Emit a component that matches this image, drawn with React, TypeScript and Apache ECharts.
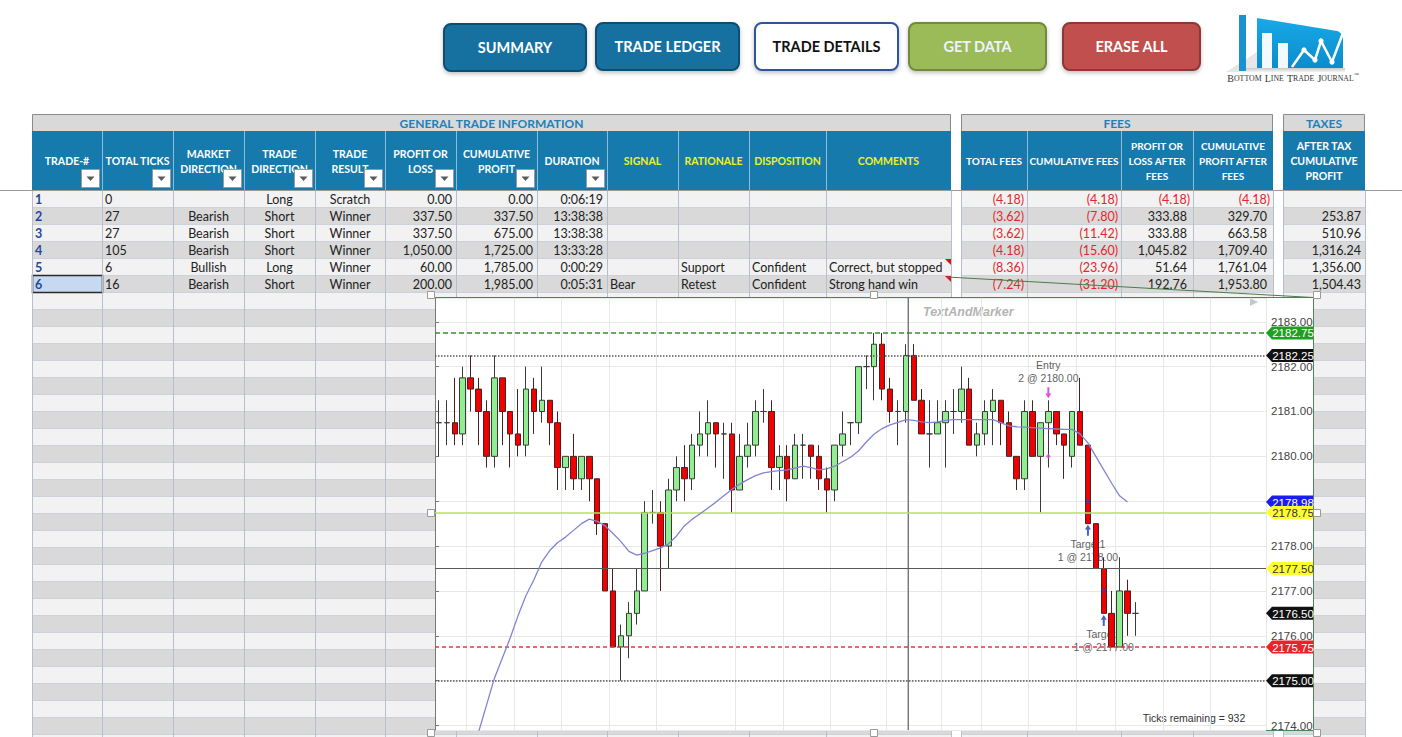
import React, { useEffect, useRef } from 'react';
import * as echarts from 'echarts';

// ================= spreadsheet values =================
const tradeNumbers = ['1', '2', '3', '4', '5', '6'];
const totalTicks = ['0', '27', '27', '105', '6', '16'];
const marketDirection = ['', 'Bearish', 'Bearish', 'Bearish', 'Bullish', 'Bearish'];
const tradeDirection = ['Long', 'Short', 'Short', 'Short', 'Long', 'Short'];
const tradeResult = ['Scratch', 'Winner', 'Winner', 'Winner', 'Winner', 'Winner'];
const profitOrLoss = [0, 337.5, 337.5, 1050, 60, 200];
const cumulativeProfit = [0, 337.5, 675, 1725, 1785, 1985];
const duration = ['0:06:19', '13:38:38', '13:38:38', '13:33:28', '0:00:29', '0:05:31'];
const signal = ['', '', '', '', '', 'Bear'];
const rationale = ['', '', '', '', 'Support', 'Retest'];
const disposition = ['', '', '', '', 'Confident', 'Confident'];
const comments = ['', '', '', '', 'Correct, but stopped', 'Strong hand win'];
const totalFees = [-4.18, -3.62, -3.62, -4.18, -8.36, -7.24];
const cumulativeFees = [-4.18, -7.8, -11.42, -15.6, -23.96, -31.2];
const plAfterFees = [-4.18, 333.88, 333.88, 1045.82, 51.64, 192.76];
const cumProfitAfterFees = [-4.18, 329.7, 663.58, 1709.4, 1761.04, 1953.8];
const afterTaxCumProfit = [null, 253.87, 510.96, 1316.24, 1356.0, 1504.43];

const groupTitles = ['GENERAL TRADE INFORMATION', 'FEES', 'TAXES'];
const generalHeaders = ['TRADE-#', 'TOTAL TICKS', 'MARKET\nDIRECTION', 'TRADE\nDIRECTION', 'TRADE\nRESULT', 'PROFIT OR\nLOSS', 'CUMULATIVE\nPROFIT', 'DURATION', 'SIGNAL', 'RATIONALE', 'DISPOSITION', 'COMMENTS'];
const feeHeaders = ['TOTAL FEES', 'CUMULATIVE FEES', 'PROFIT OR\nLOSS AFTER\nFEES', 'CUMULATIVE\nPROFIT AFTER\nFEES'];
const taxHeaders = ['AFTER TAX\nCUMULATIVE\nPROFIT'];
const buttonLabels = ['SUMMARY', 'TRADE LEDGER', 'TRADE DETAILS', 'GET DATA', 'ERASE ALL'];

// ================= price chart values =================
// [open, high, low, close] per bar
const barOHLC = [
  [2180.75, 2181.25, 2180.0, 2180.75],
  [2180.75, 2181.25, 2180.25, 2180.75],
  [2180.75, 2181.75, 2180.25, 2180.5],
  [2180.5, 2182.0, 2180.25, 2181.75],
  [2181.75, 2182.25, 2181.0, 2181.5],
  [2181.5, 2181.75, 2180.25, 2181.0],
  [2181.0, 2181.25, 2179.75, 2180.0],
  [2180.0, 2182.25, 2179.75, 2181.75],
  [2181.75, 2181.75, 2180.25, 2181.0],
  [2181.0, 2181.0, 2179.75, 2180.5],
  [2180.5, 2181.5, 2180.0, 2180.25],
  [2180.25, 2182.0, 2180.0, 2181.5],
  [2181.5, 2181.75, 2180.5, 2181.0],
  [2181.0, 2182.0, 2180.75, 2181.25],
  [2181.25, 2181.25, 2180.25, 2180.75],
  [2180.75, 2181.0, 2179.25, 2179.75],
  [2179.75, 2180.0, 2179.25, 2180.0],
  [2180.0, 2180.5, 2179.25, 2179.5],
  [2179.5, 2180.0, 2179.25, 2180.0],
  [2180.0, 2180.0, 2179.0, 2179.5],
  [2179.5, 2179.5, 2178.25, 2178.5],
  [2178.5, 2178.5, 2177.0, 2177.0],
  [2177.0, 2177.5, 2175.75, 2175.75],
  [2175.75, 2176.25, 2175.0, 2176.0],
  [2176.0, 2176.75, 2175.5, 2176.5],
  [2176.5, 2177.5, 2176.25, 2177.0],
  [2177.0, 2179.0, 2177.0, 2178.75],
  [2178.75, 2179.25, 2178.5, 2178.75],
  [2178.75, 2179.0, 2177.0, 2178.0],
  [2178.0, 2179.5, 2177.5, 2179.25],
  [2179.25, 2180.0, 2179.0, 2179.75],
  [2179.75, 2180.25, 2179.0, 2179.5],
  [2179.5, 2180.5, 2179.25, 2180.25],
  [2180.25, 2181.0, 2180.0, 2180.5],
  [2180.5, 2181.25, 2180.0, 2180.75],
  [2180.75, 2180.75, 2179.75, 2180.5],
  [2180.5, 2180.75, 2179.5, 2180.5],
  [2180.5, 2180.75, 2178.75, 2179.25],
  [2179.25, 2180.5, 2179.25, 2180.0],
  [2180.0, 2180.75, 2179.75, 2180.25],
  [2180.25, 2181.25, 2180.0, 2181.0],
  [2181.0, 2181.5, 2180.75, 2181.0],
  [2181.0, 2181.25, 2179.25, 2179.75],
  [2179.75, 2180.25, 2179.25, 2180.0],
  [2180.0, 2180.25, 2179.0, 2179.5],
  [2179.5, 2180.5, 2179.5, 2180.25],
  [2180.25, 2180.5, 2179.5, 2180.25],
  [2180.25, 2180.25, 2179.5, 2180.0],
  [2180.0, 2180.25, 2179.25, 2179.5],
  [2179.5, 2179.75, 2178.75, 2179.25],
  [2179.25, 2180.25, 2179.0, 2180.25],
  [2180.25, 2181.0, 2180.0, 2180.5],
  [2180.75, 2180.75, 2180.25, 2180.75],
  [2180.75, 2182.0, 2180.5, 2182.0],
  [2182.0, 2182.25, 2181.5, 2182.0],
  [2182.0, 2182.75, 2181.25, 2182.5],
  [2182.5, 2182.75, 2181.25, 2181.5],
  [2181.5, 2181.75, 2180.75, 2181.0],
  [2181.0, 2181.25, 2180.25, 2181.0],
  [2181.0, 2182.5, 2180.75, 2182.25],
  [2182.25, 2182.5, 2181.25, 2181.25],
  [2181.25, 2181.5, 2180.5, 2180.5],
  [2180.5, 2181.25, 2179.75, 2180.5],
  [2180.5, 2181.25, 2180.5, 2180.75],
  [2180.75, 2181.25, 2179.75, 2181.0],
  [2181.0, 2181.5, 2180.5, 2181.0],
  [2181.0, 2182.0, 2180.75, 2181.5],
  [2181.5, 2181.75, 2180.25, 2180.25],
  [2180.25, 2180.75, 2180.0, 2180.5],
  [2180.5, 2181.25, 2180.25, 2181.0],
  [2181.0, 2181.5, 2180.25, 2181.25],
  [2181.25, 2181.25, 2180.25, 2180.75],
  [2180.75, 2181.0, 2180.0, 2180.0],
  [2180.0, 2180.0, 2179.25, 2179.5],
  [2179.5, 2181.25, 2179.25, 2181.0],
  [2181.0, 2181.25, 2180.0, 2180.0],
  [2180.0, 2180.75, 2178.75, 2180.75],
  [2180.75, 2181.25, 2179.75, 2181.0],
  [2181.0, 2181.0, 2180.25, 2180.5],
  [2180.5, 2180.5, 2179.5, 2180.25],
  [2180.0, 2181.0, 2179.75, 2181.0],
  [2181.0, 2181.75, 2180.25, 2180.25],
  [2180.25, 2180.25, 2178.5, 2178.5],
  [2178.5, 2178.5, 2177.5, 2177.5],
  [2177.5, 2177.75, 2176.5, 2176.5],
  [2176.5, 2177.0, 2175.75, 2175.75],
  [2175.75, 2177.75, 2175.75, 2177.0],
  [2177.0, 2177.25, 2176.0, 2176.5],
  [2176.5, 2176.75, 2176.0, 2176.5],
];

// moving average line (null = not drawn)
const movingAverage = [
  null, null, null, null, 2173.3, 2173.85, 2174.45, 2175.05, 2175.5, 2175.95,
  2176.45, 2176.9, 2177.25, 2177.65, 2177.9, 2178.08, 2178.2, 2178.35, 2178.5, 2178.6,
  2178.55, 2178.45, 2178.28, 2178.1, 2177.88, 2177.8, 2177.84, 2177.9, 2177.96, 2178.05,
  2178.22, 2178.45, 2178.6, 2178.72, 2178.85, 2178.98, 2179.12, 2179.26, 2179.38, 2179.48,
  2179.57, 2179.63, 2179.66, 2179.68, 2179.7, 2179.74, 2179.78, 2179.75, 2179.7, 2179.72,
  2179.78, 2179.88, 2179.98, 2180.12, 2180.32, 2180.5, 2180.62, 2180.7, 2180.76, 2180.82,
  2180.8, 2180.77, 2180.75, 2180.77, 2180.8, 2180.82, 2180.82, 2180.82, 2180.82, 2180.82,
  2180.82, 2180.75, 2180.68, 2180.66, 2180.65, 2180.64, 2180.63, 2180.62, 2180.61, 2180.6,
  2180.6, 2180.5, 2180.3, 2180.0, 2179.7, 2179.4, 2179.12, 2178.98,
];

const priceMin = 2173.9;
const priceMax = 2183.53;
const barSlotCount = 105;
const barSlots = Array.from({ length: barSlotCount }, (_, i) => String(i + 1));
const verticalGridSlots = [4, 10, 16, 22, 28, 38, 44, 50, 57, 64, 69, 75, 81, 86, 92, 98];
const crosshairBar = 59.8;

// horizontal price levels (right-axis markers)
const levelPrices = [2182.75, 2182.25, 2178.98, 2178.75, 2177.5, 2176.5, 2175.75, 2175.0];

// trade annotations
const markerBars = [77, 82, 84];
const markerTitles = ['Entry', 'Target1', 'Target2'];
const markerFills = ['2 @ 2180.00', '1 @ 2178.00', '1 @ 2177.00'];
const markerTextPrices = [2181.9, 2177.9, 2175.9];
const markerArrowPrices = [2181.42, 2178.35, 2176.34];
const fillPrices = [2180.0, 2179.0, 2177.0];
const ticksRemaining = 932;

// ================= styles & layout =================
const W = 1402;
const H = 737;
const UI_FONT = 'Lato';
const CHART_FONT = 'Liberation Sans';
const GENERAL_COLS = [32, 102, 173, 244, 315, 385, 456, 537, 607, 678, 749, 826, 951];
const FEE_COLS = [961, 1027, 1121, 1193, 1273];
const TAX_COLS = [1283, 1365];
const BAND_Y = 114;
const HEAD_Y = 131;
const BODY_Y = 191;
const ROW_H = 17;
const N_ROWS = 33;
const HEADER_BLUE = '#177aad';

const levelLineStyles: any[] = [
  { color: '#2f8f2f', width: 1.5, type: [5, 3] },
  { color: '#555555', width: 1.5, type: [1.5, 1.5] },
  null,
  { color: '#b9e25c', width: 1.5, type: 'solid' },
  { color: '#5a5a5a', width: 1.2, type: 'solid' },
  null,
  { color: '#e23a3a', width: 1.5, type: [4, 3] },
  { color: '#555555', width: 1.5, type: [1.5, 1.5] },
];
const levelBoxColors = ['#20a020', '#111111', '#1c1cf0', '#ffff30', '#ffff30', '#111111', '#e82424', '#111111'];
const levelTextColors = ['#ffffff', '#ffffff', '#ffffff', '#333333', '#333333', '#ffffff', '#ffffff', '#ffffff'];

const buttonBoxes = [
  [444, 24, 142, 47],
  [596, 23, 143, 47],
  [755, 23, 143, 47],
  [909, 23, 137, 47],
  [1063, 23, 137, 47],
];
const buttonFills = ['#1570a0', '#1570a0', '#ffffff', '#9bbb59', '#c0504d'];
const buttonStrokes = ['#0e4d70', '#0e4d70', '#2f5597', '#71893f', '#8c3836'];
const buttonTextColors = ['#ffffff', '#ffffff', '#111111', '#eef2ff', '#ffffff'];

// ================= helpers =================
const money = (v: number) => Math.abs(v).toLocaleString('en-US', { minimumFractionDigits: 2, maximumFractionDigits: 2 });
const acct = (v: number | null) => (v == null ? '' : v < 0 ? `(${money(v)})` : money(v));

function rect(x: number, y: number, w: number, h: number, fill: any, stroke?: string, lw = 1, z = 0, r = 0, extra: any = {}) {
  return {
    type: 'rect', silent: true, z,
    shape: { x, y, width: w, height: h, r },
    style: { fill, stroke: stroke || null, lineWidth: stroke ? lw : 0, ...extra },
  };
}
function seg(x1: number, y1: number, x2: number, y2: number, stroke: string, lw = 1, z = 0) {
  return { type: 'line', silent: true, z, shape: { x1, y1, x2, y2 }, style: { stroke, lineWidth: lw } };
}
function poly(points: number[][], fill: string, z = 0) {
  return { type: 'polygon', silent: true, z, shape: { points }, style: { fill } };
}
function txt(x: number, y: number, text: string, o: any = {}) {
  const align = o.align || 'left';
  return {
    type: 'text', silent: true, z: o.z ?? 0,
    style: {
      text, x, y,
      fill: o.fill || '#222',
      fontSize: o.size || 12.5,
      fontFamily: o.family || UI_FONT,
      fontWeight: o.weight || 'normal',
      fontStyle: o.fontStyle || 'normal',
      align, textAlign: align,
      verticalAlign: 'middle', textVerticalAlign: 'middle',
      lineHeight: o.lh,
      rich: o.rich,
    },
  };
}

function buildGraphics() {
  const els: any[] = [];

  // ---------- buttons ----------
  buttonBoxes.forEach((b, i) => {
    els.push(rect(b[0], b[1], b[2], b[3], buttonFills[i], buttonStrokes[i], 2, 0, 7, {
      shadowBlur: 4, shadowColor: 'rgba(0,0,0,0.25)', shadowOffsetY: 2,
    }));
    els.push(txt(b[0] + b[2] / 2, b[1] + b[3] / 2, buttonLabels[i], {
      align: 'center', size: 14.5, weight: 'bold', fill: buttonTextColors[i],
    }));
  });

  // ---------- logo ----------
  els.push(poly([[1226, 72], [1257, 52], [1257, 72]], '#e6e6e6'));
  els.push(rect(1239, 68, 106, 4, { type: 'linear', x: 0, y: 0, x2: 0, y2: 1, colorStops: [{ offset: 0, color: '#c8c8c8' }, { offset: 1, color: '#f4f4f4' }] }));
  els.push(rect(1239, 15, 7, 56, '#1a92d0'));
  els.push({
    type: 'polygon', silent: true, z: 0,
    shape: { points: [[1257, 18], [1343, 32], [1343, 68], [1257, 68]] },
    style: { fill: { type: 'linear', x: 0, y: 0, x2: 0, y2: 1, colorStops: [{ offset: 0, color: '#18a9e8' }, { offset: 1, color: '#0b8ccc' }] } },
  });
  els.push(rect(1262, 33, 10, 35, '#f3fafe'));
  els.push(rect(1278, 43, 10, 25, '#f3fafe'));
  els.push({
    type: 'polyline', silent: true, z: 0,
    shape: { points: [[1292, 67], [1304, 50], [1315, 60], [1321, 41], [1332, 62], [1343, 33]] },
    style: { stroke: '#ffffff', lineWidth: 2.5, fill: null },
  });
  [[1304, 50], [1321, 41], [1315, 60], [1332, 62]].forEach((p) => {
    els.push({ type: 'circle', silent: true, z: 0, shape: { cx: p[0], cy: p[1], r: 2.6 }, style: { fill: '#ffffff' } });
  });
  els.push(poly([[1347, 28], [1338, 31], [1345, 37]], '#ffffff'));
  els.push(txt(1293, 78, '{b|B}{s|OTTOM} {b|L}{s|INE} {b|T}{s|RADE} {b|J}{s|OURNAL}{t|™}', {
    align: 'center', family: 'Liberation Serif', fill: '#333',
    rich: {
      b: { fontSize: 10, fontFamily: 'Liberation Serif', fill: '#333', color: '#333' },
      s: { fontSize: 7.8, fontFamily: 'Liberation Serif', fill: '#333', color: '#333' },
      t: { fontSize: 5, fontFamily: 'Liberation Serif', fill: '#333', color: '#333', verticalAlign: 'top' },
    },
  }));

  // ---------- table ----------
  const generalCells = [tradeNumbers, totalTicks, marketDirection, tradeDirection, tradeResult,
    profitOrLoss.map(acct), cumulativeProfit.map(acct), duration, signal, rationale, disposition, comments];
  const generalAligns = ['left', 'left', 'center', 'center', 'center', 'right', 'right', 'right', 'left', 'left', 'left', 'left'];
  const feeValues = [totalFees, cumulativeFees, plAfterFees, cumProfitAfterFees];

  const groups = [
    { cols: GENERAL_COLS, title: groupTitles[0], heads: generalHeaders, yellowFrom: 8, drops: 8, headSize: 10.5 },
    { cols: FEE_COLS, title: groupTitles[1], heads: feeHeaders, yellowFrom: 99, drops: 0, headSize: 10 },
    { cols: TAX_COLS, title: groupTitles[2], heads: taxHeaders, yellowFrom: 99, drops: 0, headSize: 10.5 },
  ];

  groups.forEach((g, gi) => {
    const x0 = g.cols[0];
    const x1 = g.cols[g.cols.length - 1];
    // stripes
    for (let r = 0; r < N_ROWS; r++) {
      els.push(rect(x0, BODY_Y + r * ROW_H, x1 - x0, ROW_H, r % 2 === 0 ? '#f2f2f2' : '#d9d9d9'));
    }
    for (let r = 1; r < N_ROWS; r++) {
      const y = BODY_Y + r * ROW_H - 0.5;
      els.push(seg(x0, y, x1, y, '#cdd2da', 1));
    }
    if (gi === 0) {
      els.push(rect(GENERAL_COLS[0] + 0.5, BODY_Y + 5 * ROW_H - 0.5, GENERAL_COLS[1] - GENERAL_COLS[0], ROW_H, '#c6d9f0', '#2b2b2b', 1.5));
    }
    g.cols.forEach((cx) => els.push(seg(cx + 0.5, BODY_Y, cx + 0.5, H, '#b5bfcd', 1)));
    // group band
    els.push(rect(x0 + 0.5, BAND_Y + 0.5, x1 - x0 - 1, HEAD_Y - BAND_Y, '#d9d9d9', '#8a8a8a', 1));
    els.push(txt((x0 + x1) / 2, (BAND_Y + HEAD_Y) / 2 + 1, g.title, {
      align: 'center', size: 12, weight: 'bold', fill: '#1e80b8',
    }));
    // header row
    els.push(rect(x0, HEAD_Y, x1 - x0, BODY_Y - HEAD_Y - 1, HEADER_BLUE));
    g.cols.slice(1, -1).forEach((cx) => els.push(seg(cx + 0.5, HEAD_Y, cx + 0.5, BODY_Y - 1, '#8fbcd8', 1)));
    g.heads.forEach((h, i) => {
      els.push(txt((g.cols[i] + g.cols[i + 1]) / 2, 161, h, {
        align: 'center', size: g.headSize, weight: 'bold', lh: 15,
        fill: i >= g.yellowFrom ? '#eef21c' : '#ffffff',
      }));
    });
    for (let i = 0; i < g.drops; i++) {
      const r = g.cols[i + 1];
      els.push(rect(r - 20.5, 169.5, 18, 18, '#ffffff', '#9a9a9a', 1));
      const cx = r - 11.5;
      els.push(poly([[cx - 4, 176.5], [cx + 4, 176.5], [cx, 181]], '#5a5a5a'));
    }
  });

  // cell texts
  for (let r = 0; r < tradeNumbers.length; r++) {
    const y = BODY_Y + r * ROW_H + 8.5;
    generalCells.forEach((col, c) => {
      const v = col[r];
      if (!v) return;
      const al = generalAligns[c];
      const x = al === 'left' ? GENERAL_COLS[c] + 3 : al === 'right' ? GENERAL_COLS[c + 1] - 4 : (GENERAL_COLS[c] + GENERAL_COLS[c + 1]) / 2;
      els.push(txt(x, y, v, c === 0 ? { align: al, weight: 'bold', fill: '#23479a' } : { align: al }));
    });
    feeValues.forEach((col, c) => {
      const v = col[r];
      const neg = v < 0;
      els.push(txt(FEE_COLS[c + 1] - (neg ? 3 : 6), y, acct(v), { align: 'right', fill: neg ? '#e3262d' : '#222' }));
    });
    const t = afterTaxCumProfit[r];
    if (t != null) els.push(txt(TAX_COLS[1] - 4, y, acct(t), { align: 'right' }));
  }
  // comment indicators
  els.push(poly([[945, 259], [951, 259], [951, 265]], '#e01010'));
  els.push(poly([[945, 276], [951, 276], [951, 282]], '#e01010'));

  // freeze-pane line across the page
  els.push(seg(0, 190.5, W, 190.5, '#9a9a9a', 1));

  // ---------- chart frame ----------
  els.push(rect(435.5, 297.5, 878, 433, '#ffffff', '#55805f', 1, 1));
  els.push(txt(923, 312, 'TextAndMarker', { z: 2, family: CHART_FONT, size: 12.5, fontStyle: 'italic', weight: 'bold', fill: '#b4b4b4' }));
  els.push(txt(1194, 718, `Ticks remaining = ${ticksRemaining}`, { z: 2, family: CHART_FONT, size: 10.5, fill: '#333', align: 'center' }));
  els.push({ ...poly([[1250, 298], [1258, 302], [1250, 306]], '#c8c8c8'), z: 2 });

  // comment connector and selection handles (on top)
  els.push(seg(947, 277, 1313, 297.5, '#4c7c4c', 1, 12));
  [[431, 295], [874, 295], [1317, 295], [431, 513], [1317, 513], [431, 733], [874, 733], [1317, 733]].forEach((p) => {
    els.push(rect(p[0] - 3.5, p[1] - 3.5, 7, 7, '#ffffff', '#9a9a9a', 1, 12));
  });

  return els;
}

const ARROW_UP = 'path://M3,0 L6,5 L4,5 L4,12 L2,12 L2,5 L0,5 Z';

function buildOption() {
  return {
    animation: false,
    grid: { left: 435, top: 298, width: 831, height: 432, show: false, outerBoundsMode: 'none', containLabel: false },
    xAxis: [
      {
        type: 'category', data: barSlots, boundaryGap: true, z: 3,
        axisLine: { show: false }, axisTick: { show: false }, axisLabel: { show: false },
        splitLine: { show: true, interval: (i: number) => verticalGridSlots.includes(i), lineStyle: { color: '#e8e8e8', width: 1 } },
      },
      { type: 'value', min: 0, max: barSlotCount, show: false },
    ],
    yAxis: {
      type: 'value', position: 'right', min: priceMin, max: priceMax, minInterval: 1, maxInterval: 1, z: 3,
      axisLine: { show: true, lineStyle: { color: '#777', width: 1 } },
      axisTick: { show: true, length: 4, lineStyle: { color: '#777' } },
      axisLabel: {
        show: true, margin: 5, color: '#444', fontSize: 11.5, fontFamily: CHART_FONT,
        showMinLabel: false, showMaxLabel: false,
        formatter: (v: number) => v.toFixed(2),
      },
      splitLine: { show: true, lineStyle: { color: '#e8e8e8', width: 1 } },
    },
    series: [
      {
        type: 'line', name: 'crosshair', xAxisIndex: 1, yAxisIndex: 0, z: 3, silent: true,
        data: [[crosshairBar, priceMin], [crosshairBar, priceMax]],
        showSymbol: false, symbol: 'none', lineStyle: { color: '#6a6a6a', width: 1.3 },
      },
      {
        type: 'scatter', name: 'trade labels', z: 3, silent: true, symbolSize: 1,
        itemStyle: { color: 'rgba(0,0,0,0)' },
        data: markerBars.map((b, i) => ({
          value: [b, markerTextPrices[i]],
          label: { formatter: `${markerTitles[i]}\n${markerFills[i]}` },
        })),
        label: { show: true, position: 'inside', color: '#333', fontSize: 10.5, lineHeight: 13, fontFamily: CHART_FONT },
      },
      {
        type: 'candlestick', name: 'ES', z: 4, silent: true, barWidth: 6,
        data: barOHLC.map((b) => [b[0], b[3], b[2], b[1]]),
        itemStyle: {
          color: '#90ee90', color0: '#f00000',
          borderColor: '#3a3a3a', borderColor0: '#4a2020', borderColorDoji: '#3a3a3a', borderWidth: 1,
        },
        markLine: {
          silent: true, symbol: ['none', 'none'], label: { show: false },
          data: levelPrices
            .map((p, i) => (levelLineStyles[i] ? { yAxis: p, lineStyle: levelLineStyles[i] } : null))
            .filter(Boolean),
        },
      },
      {
        type: 'line', name: 'average', z: 5, silent: true, data: movingAverage,
        showSymbol: false, symbol: 'none', connectNulls: false,
        lineStyle: { color: '#8383d2', width: 1.3 },
      },
      {
        type: 'scatter', name: 'executions', z: 6, silent: true, symbol: 'diamond', symbolSize: 5,
        data: markerBars.map((b, i) => ({ value: [b, fillPrices[i]], itemStyle: { color: i === 0 ? '#e040e0' : '#2a3cc8' } })),
      },
      {
        type: 'scatter', name: 'arrows', z: 6, silent: true, symbol: ARROW_UP, symbolSize: [6, 11],
        data: markerBars.map((b, i) => ({
          value: [b, markerArrowPrices[i]],
          symbolRotate: i === 0 ? 180 : 0,
          itemStyle: { color: i === 0 ? '#e020e0' : '#1c38c8' },
        })),
      },
      {
        type: 'custom', name: 'price markers', z: 10, silent: true, clip: false,
        data: levelPrices.map((p, i) => [0, p, i]),
        encode: { x: 0, y: 1 },
        renderItem: (params: any, api: any) => {
          const i = api.value(2);
          const price = api.value(1);
          const y = api.coord([0, price])[1];
          const cs = params.coordSys;
          const x0 = cs.x + cs.width;
          const h = 13;
          return {
            type: 'group',
            children: [
              {
                type: 'polygon',
                shape: { points: [[x0, y], [x0 + 6, y - h / 2], [x0 + 47, y - h / 2], [x0 + 47, y + h / 2], [x0 + 6, y + h / 2]] },
                style: { fill: levelBoxColors[i] },
              },
              {
                type: 'text',
                style: {
                  text: price.toFixed(2), x: x0 + 27, y: y + 0.5,
                  align: 'center', verticalAlign: 'middle', textAlign: 'center', textVerticalAlign: 'middle',
                  fill: levelTextColors[i], fontSize: 11.5, fontFamily: CHART_FONT,
                },
              },
            ],
          };
        },
      },
    ],
    graphic: { elements: buildGraphics() },
  };
}

export default function App() {
  const ref = useRef<HTMLDivElement>(null);
  useEffect(() => {
    if (!ref.current) return;
    const chart = echarts.init(ref.current, null, { renderer: 'svg' });
    chart.setOption(buildOption() as any);
    return () => chart.dispose();
  }, []);
  return (
    <div
      ref={ref}
      style={{ position: 'fixed', left: 0, top: 0, width: W, height: H, background: '#ffffff' }}
    />
  );
}
